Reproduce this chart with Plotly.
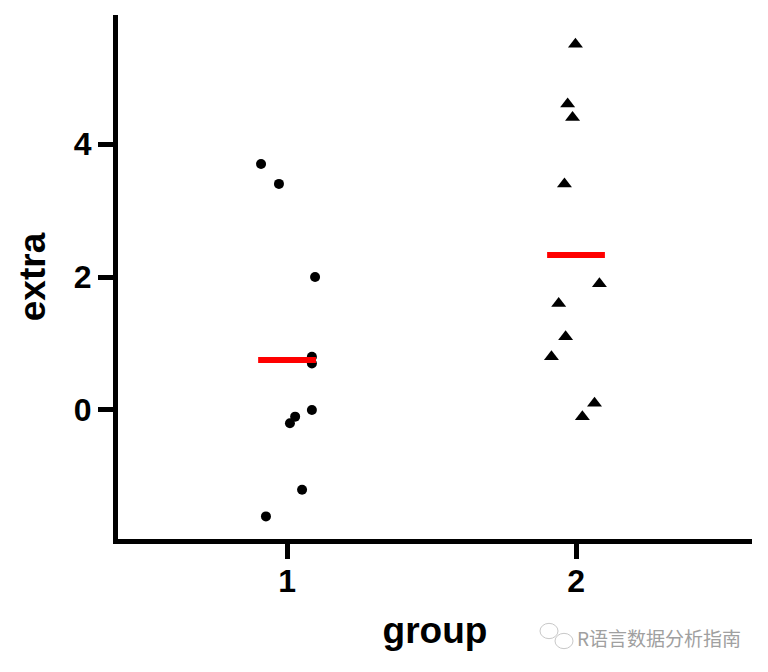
import plotly.graph_objects as go

# Data (sleep dataset), jittered x positions
g1_x = [0.910, 0.972, 1.097, 1.086, 1.086, 1.028, 1.010, 1.086, 1.052, 0.927]
g1_extra = [3.7, 3.4, 2.0, 0.8, 0.7, -0.1, -0.2, 0.0, -1.2, -1.6]
g2_x = [1.998, 1.971, 1.988, 1.960, 2.081, 1.940, 1.964, 1.915, 2.064, 2.022]
g2_extra = [5.5, 4.6, 4.4, 3.4, 1.9, 1.6, 1.1, 0.8, 0.1, -0.1]
groups = [1, 2]
means = [sum(g1_extra) / len(g1_extra), sum(g2_extra) / len(g2_extra)]
x_ticks = [1, 2]
y_ticks = [0, 2, 4]

fig = go.Figure()
fig.add_trace(go.Scatter(x=g1_x, y=g1_extra, mode="markers",
                         marker=dict(symbol="circle", size=10, color="black"),
                         showlegend=False))
fig.add_trace(go.Scatter(x=g2_x, y=g2_extra, mode="markers",
                         marker=dict(symbol="triangle-up", size=13, color="black"),
                         showlegend=False))
for g, m in zip(groups, means):
    fig.add_trace(go.Scatter(x=[g - 0.1, g + 0.1], y=[m, m], mode="lines",
                             line=dict(color="red", width=6), showlegend=False))

W, H = 760, 664
L, R, T, B = 110, 16, 7, 133
fig.update_layout(
    width=W, height=H,
    margin=dict(l=L, r=R, t=T, b=B),
    plot_bgcolor="white", paper_bgcolor="white",
    font=dict(family="Liberation Sans, Arial, sans-serif", color="black"),
    xaxis=dict(range=[0.415, 2.609], tickvals=x_ticks, ticktext=[str(t) for t in x_ticks],
               automargin=False,
               showgrid=False, zeroline=False, showline=True, linecolor="black",
               linewidth=5, ticks="outside", ticklen=15, tickwidth=5, tickcolor="black",
               ticklabelstandoff=-5,
               tickfont=dict(size=32, family="Liberation Sans, Arial", weight="bold"),
               title=dict(text="<b>group</b>", font=dict(size=37), standoff=20)),
    yaxis=dict(range=[-1.94, 5.94], tickvals=y_ticks, ticktext=[str(t) for t in y_ticks],
               automargin=False,
               showgrid=False, zeroline=False, showline=True, linecolor="black",
               linewidth=5, ticks="outside", ticklen=15, tickwidth=5, tickcolor="black",
               tickfont=dict(size=32, family="Liberation Sans, Arial", weight="bold"),
               title=dict(text="<b>extra</b>", font=dict(size=37), standoff=18)),
)
pw, ph = W - L - R, H - T - B


def px(x):
    return (x - 8 - L) / pw


def py(y):
    return ((H - B) - (y - 8)) / ph


fig.add_annotation(xref="paper", yref="paper", x=px(743), y=py(637), xanchor="right",
                   yanchor="middle", showarrow=False,
                   text="R语言数据分析指南",
                   font=dict(size=19, color="#a0a0a0", family="Noto Sans CJK SC"))
# faint chat-bubble icon of the watermark
for cx, cy, r in [(549, 631, 9), (564, 641, 9)]:
    fig.add_shape(type="circle", xref="paper", yref="paper",
                  x0=px(cx - r), x1=px(cx + r), y0=py(cy + r * 0.85), y1=py(cy - r * 0.85),
                  line=dict(color="#c8c8c8", width=1), fillcolor="white")

fig.write_html("out.html")
